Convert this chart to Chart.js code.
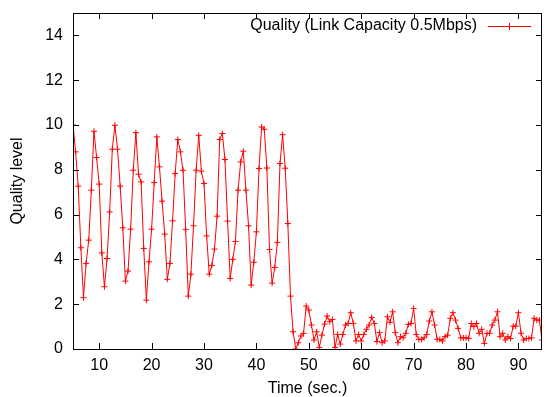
<!DOCTYPE html>
<html>
<head>
<meta charset="utf-8">
<script src="https://cdn.jsdelivr.net/npm/chart.js@4/dist/chart.umd.min.js"></script>
<style>
  html, body { margin: 0; padding: 0; background: #fff; }
  #wrap { width: 547px; height: 397px; }
</style>
</head>
<body>
<div id="wrap"><canvas id="grafico"></canvas></div>
<script>
// time in seconds, one sample every 0.5 s from 5 to 94.5
const tempos = [];
for (let i = 0; i < 180; i++) tempos.push(5 + i * 0.5);

const qualidade = [
  10.0, 8.8, 7.27, 4.52, 2.29, 3.82, 4.86, 7.09, 9.72, 8.55,
  7.36, 4.29, 2.78, 4.04, 6.12, 8.92, 9.99, 8.92, 7.27, 5.41,
  3.03, 3.48, 5.35, 7.98, 9.66, 7.80, 7.46, 4.49, 2.18, 3.89,
  5.35, 7.43, 9.47, 8.13, 6.60, 5.13, 3.11, 3.82, 5.72, 7.83,
  9.35, 8.80, 7.98, 5.34, 2.36, 3.34, 5.50, 7.98, 9.54, 7.94,
  7.39, 5.05, 3.34, 3.73, 4.46, 5.93, 9.35, 9.62, 8.46, 5.71,
  3.15, 4.00, 4.80, 7.09, 8.35, 8.83, 7.09, 5.50, 2.85, 3.87,
  5.23, 8.06, 9.91, 9.81, 8.08, 4.44, 2.94, 3.64, 4.76, 8.28,
  9.57, 8.07, 5.60, 2.36, 0.77, 0.0, 0.28, 0.58, 0.70, 1.92,
  1.74, 1.07, 0.40, 0.77, 0.07, 0.62, 1.11, 1.47, 1.22, 1.32,
  0.07, 0.65, 0.22, 0.65, 1.07, 1.14, 1.62, 1.14, 0.36, 0.65,
  0.36, 0.65, 0.88, 1.07, 1.41, 1.14, 0.33, 0.73, 0.28, 0.36,
  1.44, 1.19, 1.66, 0.73, 0.28, 0.55, 0.50, 0.70, 1.10, 1.14,
  1.81, 0.65, 0.43, 0.43, 0.50, 0.65, 1.25, 1.66, 1.07, 0.43,
  0.43, 0.36, 0.55, 0.62, 1.37, 1.62, 1.29, 0.92, 0.50, 0.50,
  0.50, 0.47, 1.14, 1.00, 1.14, 0.70, 0.88, 0.25, 0.70, 0.70,
  1.07, 1.29, 1.66, 0.55, 0.70, 0.40, 0.55, 0.47, 1.02, 1.02,
  1.62, 0.70, 0.40, 0.47, 0.47, 0.50, 1.37, 1.29, 1.29, 0.40
];

const ticksX = [10, 20, 30, 40, 50, 60, 70, 80, 90];
const ticksY = [0, 2, 4, 6, 8, 10, 12, 14];

const fonte = { family: 'Liberation Sans, Arial, sans-serif', size: 16 };
const fonteTitulo = { family: 'Liberation Sans, Arial, sans-serif', size: 16, lineHeight: 1 };

// gnuplot style: box border, ticks pointing inwards, legend in the top right corner
const molduraGnuplot = {
  id: 'molduraGnuplot',
  afterDraw(chart) {
    const ctx = chart.ctx;
    const area = chart.chartArea;
    const sx = chart.scales.x;
    const sy = chart.scales.y;
    ctx.save();
    ctx.strokeStyle = '#000';
    ctx.lineWidth = 1;
    ctx.beginPath();
    sx.ticks.forEach(t => {
      const px = Math.round(sx.getPixelForValue(t.value)) + 0.5;
      ctx.moveTo(px, area.bottom); ctx.lineTo(px, area.bottom - 6);
      ctx.moveTo(px, area.top); ctx.lineTo(px, area.top + 6);
    });
    sy.ticks.forEach(t => {
      const py = Math.round(sy.getPixelForValue(t.value)) + 0.5;
      ctx.moveTo(area.left, py); ctx.lineTo(area.left + 6, py);
      ctx.moveTo(area.right, py); ctx.lineTo(area.right - 6, py);
    });
    ctx.stroke();
    ctx.strokeRect(Math.round(area.left) + 0.5, Math.round(area.top) + 0.5,
      Math.round(area.right - area.left) - 1, Math.round(area.bottom - area.top));

    // legend
    const ds = chart.data.datasets[0];
    const yLeg = 26;
    ctx.font = '16px ' + fonte.family;
    ctx.fillStyle = '#000';
    ctx.textAlign = 'right';
    ctx.textBaseline = 'middle';
    ctx.fillText(ds.label, 477, yLeg);
    ctx.strokeStyle = ds.borderColor;
    ctx.beginPath();
    ctx.moveTo(488, yLeg + 0.5); ctx.lineTo(531, yLeg + 0.5);
    ctx.moveTo(509.5, yLeg - 3); ctx.lineTo(509.5, yLeg + 4);
    ctx.moveTo(506, yLeg + 0.5); ctx.lineTo(513, yLeg + 0.5);
    ctx.stroke();
    ctx.restore();
  }
};

const ctx = document.getElementById('grafico').getContext('2d');

new Chart(ctx, {
  type: 'line',
  data: {
    labels: tempos,
    datasets: [{
      label: 'Quality (Link Capacity 0.5Mbps)',
      data: tempos.map((t, i) => ({ x: t, y: qualidade[i] })),
      borderColor: '#ff0000',
      backgroundColor: '#ff0000',
      borderWidth: 1,
      pointStyle: 'cross',
      pointRadius: 3,
      pointBorderWidth: 1,
      tension: 0,
      fill: false
    }]
  },
  options: {
    responsive: true,
    maintainAspectRatio: false,
    animation: false,
    layout: { padding: { top: 13, right: 1, left: 0, bottom: 0 } },
    plugins: {
      legend: { display: false },
      tooltip: { enabled: false }
    },
    scales: {
      x: {
        type: 'linear',
        min: 5,
        max: 94.5,
        afterBuildTicks: s => { s.ticks = ticksX.map(v => ({ value: v })); },
        afterFit: s => { s.height = 48; s.paddingLeft = 0; s.paddingRight = 0; },
        grid: { display: false, drawTicks: false },
        border: { display: false },
        ticks: { color: '#000', font: fonte, padding: 7, maxRotation: 0 },
        title: { display: true, text: 'Time (sec.)', color: '#000', font: fonteTitulo, padding: 0 }
      },
      y: {
        min: 0,
        max: 15,
        afterBuildTicks: s => { s.ticks = ticksY.map(v => ({ value: v })); },
        afterFit: s => { s.width = 73; s.paddingTop = 0; s.paddingBottom = 0; },
        grid: { display: false, drawTicks: false },
        border: { display: false },
        ticks: { color: '#000', font: fonte, padding: 10 },
        title: { display: true, text: 'Quality level', color: '#000', font: fonteTitulo, padding: { top: 10, bottom: 0 } }
      }
    }
  },
  plugins: [molduraGnuplot]
});
</script>
</body>
</html>
